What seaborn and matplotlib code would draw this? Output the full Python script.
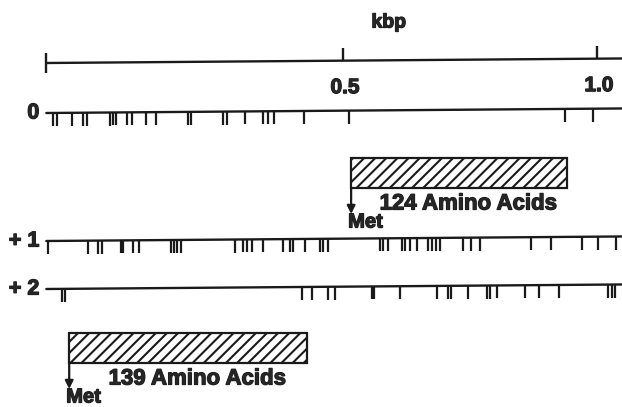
import numpy as np
import matplotlib.pyplot as plt
import matplotlib.patheffects as pe
import seaborn as sns
from matplotlib.patches import Rectangle

# ── data (positions in kbp) ──────────────────────────────────────────────────
frame_labels = ['0', '+ 1', '+ 2']

stops_0 = [-0.071, -0.063, -0.033, -0.012, -0.004, 0.041, 0.047, 0.053,
           0.075, 0.085, 0.112, 0.132, 0.195, 0.201, 0.264, 0.272, 0.307,
           0.343, 0.352, 0.364, 0.423, 0.512, 0.937, 0.992]

stops_1 = [-0.081, -0.002, 0.018, 0.026, 0.063, 0.067, 0.087, 0.098,
           0.161, 0.167, 0.173, 0.181, 0.287, 0.303, 0.311, 0.321, 0.343,
           0.382, 0.396, 0.402, 0.425, 0.455, 0.461, 0.470, 0.573, 0.579,
           0.589, 0.616, 0.622, 0.632, 0.646, 0.667, 0.675, 0.683, 0.691,
           0.736, 0.752, 0.770, 0.870, 0.909, 0.970, 1.002, 1.037]

stops_2 = [-0.053, -0.047, 0.419, 0.439, 0.470, 0.484, 0.557, 0.561,
           0.612, 0.685, 0.707, 0.713, 0.746, 0.783, 0.789, 0.803, 0.858,
           0.886, 0.925, 1.022, 1.030, 1.035]

ruler_ticks = [0.5, 1.0]
ruler_labels = ['0.5', '1.0']
seq_start = -0.084

orf_start = [0.516, -0.039]
orf_end = [0.941, 0.429]
orf_labels = ['124 Amino Acids', '139 Amino Acids']

# ── layout (vertical positions in pixels from the top) ───────────────────────
px = 1 / 508          # one pixel in kbp
ruler_y = 63
frame_y = [113, 241, 289]
orf_top = [158, 333]
orf_h = 30
tick_len = 13
tilt = 4.0            # the scan is slightly rotated (px per kbp)

sns.set_theme(style='white')
plt.rcParams['font.family'] = ['Liberation Sans', 'DejaVu Sans']
plt.rcParams['font.weight'] = 'bold'
plt.rcParams['hatch.linewidth'] = 1.5

# printed type in the scan is heavier than a plain bold face
heavy = [pe.withStroke(linewidth=0.9, foreground='k')]

fig = plt.figure(figsize=(6.22, 4.07), dpi=100)
ax = fig.add_axes([0, 0, 1, 1])
xmax = 533 * px
ax.set_xlim(-89 * px, xmax)
ax.set_ylim(407, 0)
ax.axis('off')


def yy(x, y0):
    return y0 - tilt * (np.asarray(x) - seq_start)


def label(x, y, s, size, **kw):
    ax.text(x, y, s, va='center', fontsize=size, fontweight='bold',
            path_effects=heavy, **kw)


# ruler
ax.plot([seq_start, xmax], yy([seq_start, xmax], ruler_y), color='k', lw=1.7)
ax.vlines(seq_start, yy(seq_start, ruler_y) - 10, yy(seq_start, ruler_y) + 10,
          color='k', lw=1.7)
ax.vlines(ruler_ticks, yy(ruler_ticks, ruler_y) - tick_len, yy(ruler_ticks, ruler_y),
          color='k', lw=1.7)
for t, lab in zip(ruler_ticks, ruler_labels):
    label(t + 2 * px, yy(t, ruler_y) + 27, lab, 15, ha='center')
label(0.59, 23, 'kbp', 14, ha='center')

# reading frames with stop codons
for lab, y0, stops in zip(frame_labels, frame_y, [stops_0, stops_1, stops_2]):
    ax.plot([seq_start, xmax], yy([seq_start, xmax], y0), color='k', lw=1.7)
    ax.vlines(stops, yy(stops, y0), yy(stops, y0) + tick_len, color='k', lw=1.6)
    label(seq_start - 7 * px, y0, lab, 15.5, ha='right')

# open reading frames
for x0, x1, top, lab in zip(orf_start, orf_end, orf_top, orf_labels):
    ax.add_patch(Rectangle((x0, top), x1 - x0, orf_h, facecolor='white',
                           edgecolor='k', hatch='///', lw=1.6))
    bottom = top + orf_h
    ax.annotate('', xy=(x0, bottom + 26), xytext=(x0, bottom),
                arrowprops=dict(arrowstyle='-|>', color='k', lw=1.6,
                                mutation_scale=12, shrinkA=0, shrinkB=0))
    label(x0 - 3 * px, bottom + 34, 'Met', 14.5, ha='left')
    label((x0 + x1) / 2 + 0.018, bottom + 16, lab, 16, ha='center')

fig.savefig('out.png', dpi=100)
